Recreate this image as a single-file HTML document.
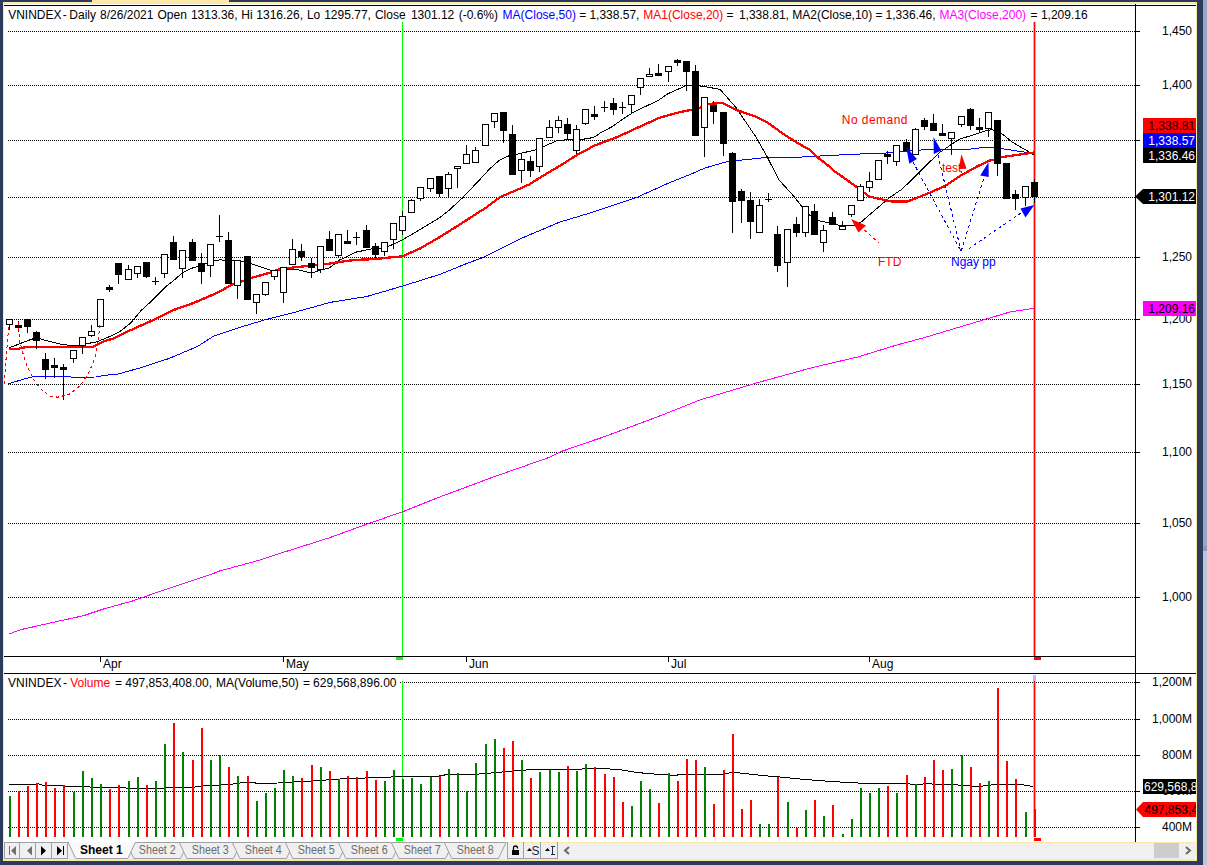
<!DOCTYPE html><html><head><meta charset="utf-8"><style>
html,body{margin:0;padding:0;background:#2b3b5b;overflow:hidden}
svg{display:block}
text{font-family:"Liberation Sans", sans-serif;font-size:12px}
</style></head><body>
<svg width="1207" height="865" viewBox="0 0 1207 865">
<rect x="0" y="0" width="1207" height="865" fill="#2b3b5b"/>
<rect x="1203" y="0" width="4" height="865" fill="#9aa7c2"/>
<rect x="1203" y="546" width="4" height="5" fill="#8d9ab5"/>
<rect x="1203" y="551" width="4" height="314" fill="#bcc5d9"/>
<rect x="92" y="0" width="137" height="2" fill="#fce8a8"/>
<rect x="3" y="2" width="1194" height="859" fill="#fce8a8"/>
<rect x="4" y="4" width="1192" height="838" fill="#ffffff"/>
<g shape-rendering="crispEdges">
<rect x="4" y="5" width="1192" height="1" fill="#000"/>
<line x1="8" y1="31.5" x2="1135" y2="31.5" stroke="#000" stroke-width="1" stroke-dasharray="1,1"/>
<rect x="1136" y="31" width="4" height="1" fill="#000"/>
<line x1="8" y1="85.5" x2="1135" y2="85.5" stroke="#000" stroke-width="1" stroke-dasharray="1,1"/>
<rect x="1136" y="85" width="4" height="1" fill="#000"/>
<line x1="8" y1="140.5" x2="1135" y2="140.5" stroke="#000" stroke-width="1" stroke-dasharray="1,1"/>
<rect x="1136" y="140" width="4" height="1" fill="#000"/>
<line x1="8" y1="197.5" x2="1135" y2="197.5" stroke="#000" stroke-width="1" stroke-dasharray="1,1"/>
<rect x="1136" y="197" width="4" height="1" fill="#000"/>
<line x1="8" y1="257.5" x2="1135" y2="257.5" stroke="#000" stroke-width="1" stroke-dasharray="1,1"/>
<rect x="1136" y="257" width="4" height="1" fill="#000"/>
<line x1="8" y1="319.5" x2="1135" y2="319.5" stroke="#000" stroke-width="1" stroke-dasharray="1,1"/>
<rect x="1136" y="319" width="4" height="1" fill="#000"/>
<line x1="8" y1="384.5" x2="1135" y2="384.5" stroke="#000" stroke-width="1" stroke-dasharray="1,1"/>
<rect x="1136" y="384" width="4" height="1" fill="#000"/>
<line x1="8" y1="452.5" x2="1135" y2="452.5" stroke="#000" stroke-width="1" stroke-dasharray="1,1"/>
<rect x="1136" y="452" width="4" height="1" fill="#000"/>
<line x1="8" y1="523.5" x2="1135" y2="523.5" stroke="#000" stroke-width="1" stroke-dasharray="1,1"/>
<rect x="1136" y="523" width="4" height="1" fill="#000"/>
<line x1="8" y1="597.5" x2="1135" y2="597.5" stroke="#000" stroke-width="1" stroke-dasharray="1,1"/>
<rect x="1136" y="597" width="4" height="1" fill="#000"/>
<line x1="8" y1="682.5" x2="1135" y2="682.5" stroke="#000" stroke-width="1" stroke-dasharray="1,1"/>
<rect x="1136" y="682" width="4" height="1" fill="#000"/>
<line x1="8" y1="719.5" x2="1135" y2="719.5" stroke="#000" stroke-width="1" stroke-dasharray="1,1"/>
<rect x="1136" y="719" width="4" height="1" fill="#000"/>
<line x1="8" y1="755.5" x2="1135" y2="755.5" stroke="#000" stroke-width="1" stroke-dasharray="1,1"/>
<rect x="1136" y="755" width="4" height="1" fill="#000"/>
<line x1="8" y1="791.5" x2="1135" y2="791.5" stroke="#000" stroke-width="1" stroke-dasharray="1,1"/>
<rect x="1136" y="791" width="4" height="1" fill="#000"/>
<line x1="8" y1="827.5" x2="1135" y2="827.5" stroke="#000" stroke-width="1" stroke-dasharray="1,1"/>
<rect x="1136" y="827" width="4" height="1" fill="#000"/>
</g>
<text x="1192" y="35" text-anchor="end" fill="#000">1,450</text>
<text x="1192" y="89" text-anchor="end" fill="#000">1,400</text>
<text x="1192" y="144" text-anchor="end" fill="#000">1,350</text>
<text x="1192" y="201" text-anchor="end" fill="#000">1,300</text>
<text x="1192" y="261" text-anchor="end" fill="#000">1,250</text>
<text x="1192" y="323" text-anchor="end" fill="#000">1,200</text>
<text x="1192" y="388" text-anchor="end" fill="#000">1,150</text>
<text x="1192" y="456" text-anchor="end" fill="#000">1,100</text>
<text x="1192" y="527" text-anchor="end" fill="#000">1,050</text>
<text x="1192" y="601" text-anchor="end" fill="#000">1,000</text>
<text x="1192" y="686" text-anchor="end" fill="#000">1,200M</text>
<text x="1192" y="723" text-anchor="end" fill="#000">1,000M</text>
<text x="1192" y="759" text-anchor="end" fill="#000">800M</text>
<text x="1192" y="795" text-anchor="end" fill="#000">600M</text>
<text x="1192" y="831" text-anchor="end" fill="#000">400M</text>
<g shape-rendering="crispEdges">
<rect x="1135" y="4" width="1" height="838" fill="#000"/>
<rect x="4" y="656" width="1131" height="1" fill="#000"/>
<rect x="4" y="673" width="1192" height="1" fill="#000"/>
<rect x="100" y="656" width="1" height="6" fill="#000"/>
<rect x="283" y="656" width="1" height="6" fill="#000"/>
<rect x="466" y="656" width="1" height="6" fill="#000"/>
<rect x="668" y="656" width="1" height="6" fill="#000"/>
<rect x="869" y="656" width="1" height="6" fill="#000"/>
</g>
<text x="103" y="668" fill="#000">Apr</text>
<text x="286" y="668" fill="#000">May</text>
<text x="469" y="668" fill="#000">Jun</text>
<text x="671" y="668" fill="#000">Jul</text>
<text x="872" y="668" fill="#000">Aug</text>
<g shape-rendering="crispEdges">
<rect x="402" y="22" width="1" height="634" fill="#00ff00"/>
<rect x="402" y="681" width="1" height="156" fill="#00ff00"/>
<rect x="396" y="657" width="7" height="3" fill="#00ff00"/>
<rect x="396" y="838" width="7" height="3" fill="#00ff00"/>
<rect x="1033" y="22" width="3" height="634" fill="#b4b4ff"/>
<rect x="1034" y="22" width="1" height="634" fill="#ff0000"/>
<rect x="1033" y="675" width="3" height="162" fill="#b4b4ff"/>
<rect x="1034" y="681" width="1" height="156" fill="#ff0000"/>
<rect x="1034" y="657" width="7" height="3" fill="#ff0000"/>
<rect x="1034" y="838" width="7" height="3" fill="#ff0000"/>
</g>
<polyline points="8.7,634.1 20.9,629.6 52.2,622.6 83.5,615.7 104.4,608.7 132.2,601.1 160.0,591.3 187.9,581.9 212.2,573.9 219.2,571.1 257.5,560.7 288.8,550.6 330.5,537.4 370.6,522.8 402.5,511.8 436.3,498.3 492.7,477.2 549.0,457.5 560.3,451.8 605.4,436.3 661.7,415.2 700.0,399.9 756.3,383.0 812.7,367.5 857.7,357.0 897.2,344.9 925.4,337.3 981.7,320.4 1009.9,312.0 1033.8,308.3" fill="none" stroke="#ff00ff" stroke-width="1" shape-rendering="crispEdges"/>
<polyline points="8.5,383.8 23.1,379.3 32.4,377.0 41.6,376.1 68.2,376.4 71.6,377.2 95.9,377.0 105.0,375.3 118.3,374.0 140.8,367.7 169.0,358.5 197.2,346.6 214.0,335.9 239.4,327.5 267.6,319.0 295.8,312.0 330.0,302.4 366.8,296.5 403.6,285.8 440.4,274.2 465.0,264.2 483.3,257.3 520.0,238.9 560.0,222.0 590.6,212.8 636.6,197.5 667.2,183.7 690.0,174.5 705.0,168.0 727.7,161.5 767.0,157.4 800.0,157.1 815.0,156.2 827.8,155.7 847.4,154.5 865.0,153.8 891.6,152.8 905.0,151.3 910.5,150.6 933.0,149.3 966.2,149.7 986.0,147.1 994.0,147.1 1006.0,149.3 1034.0,153.6" fill="none" stroke="#0000ff" stroke-width="1" shape-rendering="crispEdges"/>
<polyline points="9.2,347.6 17.3,344.7 27.7,340.6 34.7,338.3 40.4,338.9 48.5,341.2 62.4,344.7 69.3,345.2 78.6,345.2 87.8,343.5 97.0,341.8 104.0,338.9 110.0,336.4 120.4,331.2 130.8,322.9 141.2,310.4 151.6,301.0 160.0,292.7 167.2,285.4 172.4,281.7 182.9,272.4 193.3,267.7 203.7,264.6 214.1,260.4 220.3,259.9 240.8,261.2 251.2,263.8 272.0,270.6 286.6,269.6 294.9,269.0 311.6,273.2 319.9,270.1 323.5,269.5 329.3,268.0 339.4,260.1 347.8,256.0 356.1,252.1 371.4,249.0 380.4,248.3 388.0,246.6 400.0,241.0 409.8,235.7 424.7,226.7 439.6,217.8 449.6,209.8 462.5,197.9 479.4,180.0 490.0,168.5 500.0,159.8 509.0,155.8 515.9,154.4 535.8,149.9 542.7,146.9 557.7,140.4 573.6,139.4 587.5,138.9 595.4,136.5 600.0,133.1 612.9,126.2 621.9,119.7 632.8,112.7 644.7,106.8 657.7,100.8 667.6,93.9 675.5,90.4 686.5,85.4 699.4,85.9 709.3,87.4 720.0,89.4 735.6,107.0 755.0,135.6 767.0,156.6 779.0,180.0 792.7,195.0 801.7,206.3 809.0,214.6 818.0,220.6 829.8,223.0 839.0,225.2 854.8,225.2 861.2,222.0 889.0,198.0 902.5,188.8 919.8,171.6 939.6,152.4 959.5,139.1 972.8,135.1 987.4,130.2 992.7,129.8 1002.0,133.8 1012.6,142.4 1034.0,154.8" fill="none" stroke="#000" stroke-width="1" shape-rendering="crispEdges"/>
<polyline points="9.2,349.0 18.5,348.7 27.7,346.7 54.3,346.7 57.8,347.2 92.4,347.0 97.0,344.7 104.0,341.2 112.1,339.0 130.8,330.1 151.6,320.8 172.4,310.4 193.3,303.1 214.1,294.2 232.5,284.6 242.9,281.0 251.2,277.9 270.0,272.7 278.3,269.6 292.9,267.5 313.7,265.4 324.1,264.3 333.9,262.9 347.8,260.8 357.5,259.8 375.5,259.1 385.2,258.0 393.6,257.0 401.9,256.5 419.8,248.6 439.6,237.2 459.5,224.7 479.4,211.8 484.4,208.8 500.0,197.2 519.9,188.6 529.8,184.2 539.8,177.7 549.7,171.8 560.0,165.8 577.3,154.8 594.7,145.5 617.8,136.8 639.8,126.7 659.6,117.7 679.5,112.2 691.5,109.8 699.4,107.8 709.3,103.8 722.5,103.0 736.0,109.8 756.8,117.0 767.2,122.3 782.9,133.7 798.5,143.6 808.9,149.3 819.3,158.7 830.0,167.0 833.5,170.5 856.6,186.9 869.0,196.5 891.6,201.5 907.5,201.5 926.0,194.3 945.0,186.1 960.6,175.7 976.2,166.9 989.2,160.6 994.4,159.6 1002.2,157.0 1034.0,152.5" fill="none" stroke="#ff0000" stroke-width="2.3" stroke-linejoin="round" shape-rendering="crispEdges"/>
<g shape-rendering="crispEdges">
<rect x="9" y="319" width="1" height="11" fill="#000"/>
<rect x="6" y="319" width="7" height="6" fill="#000"/>
<rect x="7" y="320" width="5" height="4" fill="#fff"/>
<rect x="18" y="321" width="1" height="11" fill="#000"/>
<rect x="15" y="325" width="7" height="3" fill="#000"/>
<rect x="27" y="319" width="1" height="14" fill="#000"/>
<rect x="24" y="319" width="7" height="8" fill="#000"/>
<rect x="36" y="331" width="1" height="18" fill="#000"/>
<rect x="33" y="332" width="7" height="9" fill="#000"/>
<rect x="45" y="353" width="1" height="26" fill="#000"/>
<rect x="42" y="359" width="7" height="11" fill="#000"/>
<rect x="54" y="358" width="1" height="20" fill="#000"/>
<rect x="51" y="365" width="7" height="3" fill="#000"/>
<rect x="63" y="364" width="1" height="36" fill="#000"/>
<rect x="60" y="367" width="7" height="3" fill="#000"/>
<rect x="73" y="350" width="1" height="13" fill="#000"/>
<rect x="70" y="350" width="7" height="9" fill="#000"/>
<rect x="71" y="351" width="5" height="7" fill="#fff"/>
<rect x="82" y="337" width="1" height="17" fill="#000"/>
<rect x="79" y="337" width="7" height="9" fill="#000"/>
<rect x="80" y="338" width="5" height="7" fill="#fff"/>
<rect x="91" y="325" width="1" height="12" fill="#000"/>
<rect x="88" y="331" width="7" height="5" fill="#000"/>
<rect x="89" y="332" width="5" height="3" fill="#fff"/>
<rect x="97" y="299" width="7" height="28" fill="#000"/>
<rect x="98" y="300" width="5" height="26" fill="#fff"/>
<rect x="109" y="285" width="1" height="7" fill="#000"/>
<rect x="106" y="287" width="7" height="3" fill="#000"/>
<rect x="118" y="263" width="1" height="21" fill="#000"/>
<rect x="115" y="263" width="7" height="12" fill="#000"/>
<rect x="128" y="265" width="1" height="15" fill="#000"/>
<rect x="125" y="269" width="7" height="11" fill="#000"/>
<rect x="126" y="270" width="5" height="9" fill="#fff"/>
<rect x="137" y="266" width="1" height="12" fill="#000"/>
<rect x="134" y="266" width="7" height="8" fill="#000"/>
<rect x="135" y="267" width="5" height="6" fill="#fff"/>
<rect x="146" y="262" width="1" height="16" fill="#000"/>
<rect x="143" y="262" width="7" height="15" fill="#000"/>
<rect x="155" y="277" width="1" height="8" fill="#000"/>
<rect x="152" y="281" width="7" height="1" fill="#000"/>
<rect x="164" y="254" width="1" height="24" fill="#000"/>
<rect x="161" y="254" width="7" height="20" fill="#000"/>
<rect x="162" y="255" width="5" height="18" fill="#fff"/>
<rect x="173" y="236" width="1" height="24" fill="#000"/>
<rect x="170" y="242" width="7" height="18" fill="#000"/>
<rect x="182" y="250" width="1" height="28" fill="#000"/>
<rect x="179" y="250" width="7" height="19" fill="#000"/>
<rect x="180" y="251" width="5" height="17" fill="#fff"/>
<rect x="192" y="239" width="1" height="22" fill="#000"/>
<rect x="189" y="242" width="7" height="19" fill="#000"/>
<rect x="201" y="253" width="1" height="31" fill="#000"/>
<rect x="198" y="263" width="7" height="9" fill="#000"/>
<rect x="210" y="244" width="1" height="33" fill="#000"/>
<rect x="207" y="244" width="7" height="22" fill="#000"/>
<rect x="208" y="245" width="5" height="20" fill="#fff"/>
<rect x="219" y="215" width="1" height="27" fill="#000"/>
<rect x="216" y="236" width="7" height="1" fill="#000"/>
<rect x="228" y="232" width="1" height="52" fill="#000"/>
<rect x="225" y="240" width="7" height="44" fill="#000"/>
<rect x="237" y="260" width="1" height="39" fill="#000"/>
<rect x="234" y="260" width="7" height="26" fill="#000"/>
<rect x="235" y="261" width="5" height="24" fill="#fff"/>
<rect x="244" y="256" width="7" height="44" fill="#000"/>
<rect x="256" y="294" width="1" height="20" fill="#000"/>
<rect x="253" y="294" width="7" height="9" fill="#000"/>
<rect x="254" y="295" width="5" height="7" fill="#fff"/>
<rect x="265" y="282" width="1" height="14" fill="#000"/>
<rect x="262" y="282" width="7" height="13" fill="#000"/>
<rect x="263" y="283" width="5" height="11" fill="#fff"/>
<rect x="274" y="270" width="1" height="10" fill="#000"/>
<rect x="271" y="270" width="7" height="7" fill="#000"/>
<rect x="272" y="271" width="5" height="5" fill="#fff"/>
<rect x="283" y="267" width="1" height="36" fill="#000"/>
<rect x="280" y="267" width="7" height="26" fill="#000"/>
<rect x="281" y="268" width="5" height="24" fill="#fff"/>
<rect x="292" y="239" width="1" height="26" fill="#000"/>
<rect x="289" y="249" width="7" height="16" fill="#000"/>
<rect x="290" y="250" width="5" height="14" fill="#fff"/>
<rect x="301" y="244" width="1" height="17" fill="#000"/>
<rect x="298" y="251" width="7" height="6" fill="#000"/>
<rect x="311" y="258" width="1" height="20" fill="#000"/>
<rect x="308" y="263" width="7" height="5" fill="#000"/>
<rect x="320" y="246" width="1" height="27" fill="#000"/>
<rect x="317" y="246" width="7" height="24" fill="#000"/>
<rect x="318" y="247" width="5" height="22" fill="#fff"/>
<rect x="329" y="231" width="1" height="20" fill="#000"/>
<rect x="326" y="239" width="7" height="12" fill="#000"/>
<rect x="338" y="234" width="1" height="23" fill="#000"/>
<rect x="335" y="234" width="7" height="22" fill="#000"/>
<rect x="336" y="235" width="5" height="20" fill="#fff"/>
<rect x="347" y="230" width="1" height="14" fill="#000"/>
<rect x="344" y="241" width="7" height="3" fill="#000"/>
<rect x="356" y="232" width="1" height="13" fill="#000"/>
<rect x="353" y="237" width="7" height="1" fill="#000"/>
<rect x="366" y="225" width="1" height="23" fill="#000"/>
<rect x="363" y="230" width="7" height="18" fill="#000"/>
<rect x="375" y="243" width="1" height="15" fill="#000"/>
<rect x="372" y="246" width="7" height="9" fill="#000"/>
<rect x="384" y="242" width="1" height="14" fill="#000"/>
<rect x="381" y="242" width="7" height="10" fill="#000"/>
<rect x="382" y="243" width="5" height="8" fill="#fff"/>
<rect x="393" y="223" width="1" height="26" fill="#000"/>
<rect x="390" y="223" width="7" height="17" fill="#000"/>
<rect x="391" y="224" width="5" height="15" fill="#fff"/>
<rect x="402" y="211" width="1" height="24" fill="#000"/>
<rect x="399" y="216" width="7" height="15" fill="#000"/>
<rect x="400" y="217" width="5" height="13" fill="#fff"/>
<rect x="411" y="199" width="1" height="14" fill="#000"/>
<rect x="408" y="200" width="7" height="13" fill="#000"/>
<rect x="409" y="201" width="5" height="11" fill="#fff"/>
<rect x="420" y="187" width="1" height="14" fill="#000"/>
<rect x="417" y="187" width="7" height="12" fill="#000"/>
<rect x="418" y="188" width="5" height="10" fill="#fff"/>
<rect x="430" y="178" width="1" height="14" fill="#000"/>
<rect x="427" y="178" width="7" height="11" fill="#000"/>
<rect x="428" y="179" width="5" height="9" fill="#fff"/>
<rect x="439" y="176" width="1" height="21" fill="#000"/>
<rect x="436" y="176" width="7" height="18" fill="#000"/>
<rect x="448" y="172" width="1" height="25" fill="#000"/>
<rect x="445" y="174" width="7" height="15" fill="#000"/>
<rect x="446" y="175" width="5" height="13" fill="#fff"/>
<rect x="457" y="166" width="1" height="22" fill="#000"/>
<rect x="454" y="166" width="7" height="3" fill="#000"/>
<rect x="455" y="167" width="5" height="1" fill="#fff"/>
<rect x="466" y="145" width="1" height="19" fill="#000"/>
<rect x="463" y="154" width="7" height="10" fill="#000"/>
<rect x="464" y="155" width="5" height="8" fill="#fff"/>
<rect x="475" y="147" width="1" height="16" fill="#000"/>
<rect x="472" y="150" width="7" height="13" fill="#000"/>
<rect x="473" y="151" width="5" height="11" fill="#fff"/>
<rect x="482" y="124" width="7" height="22" fill="#000"/>
<rect x="483" y="125" width="5" height="20" fill="#fff"/>
<rect x="494" y="113" width="1" height="15" fill="#000"/>
<rect x="491" y="113" width="7" height="9" fill="#000"/>
<rect x="492" y="114" width="5" height="7" fill="#fff"/>
<rect x="503" y="112" width="1" height="31" fill="#000"/>
<rect x="500" y="112" width="7" height="19" fill="#000"/>
<rect x="512" y="125" width="1" height="50" fill="#000"/>
<rect x="509" y="134" width="7" height="41" fill="#000"/>
<rect x="521" y="154" width="1" height="29" fill="#000"/>
<rect x="518" y="159" width="7" height="12" fill="#000"/>
<rect x="519" y="160" width="5" height="10" fill="#fff"/>
<rect x="530" y="156" width="1" height="21" fill="#000"/>
<rect x="527" y="161" width="7" height="10" fill="#000"/>
<rect x="539" y="138" width="1" height="34" fill="#000"/>
<rect x="536" y="138" width="7" height="29" fill="#000"/>
<rect x="537" y="139" width="5" height="27" fill="#fff"/>
<rect x="549" y="120" width="1" height="18" fill="#000"/>
<rect x="546" y="127" width="7" height="11" fill="#000"/>
<rect x="547" y="128" width="5" height="9" fill="#fff"/>
<rect x="558" y="116" width="1" height="17" fill="#000"/>
<rect x="555" y="120" width="7" height="8" fill="#000"/>
<rect x="556" y="121" width="5" height="6" fill="#fff"/>
<rect x="567" y="118" width="1" height="21" fill="#000"/>
<rect x="564" y="124" width="7" height="10" fill="#000"/>
<rect x="576" y="125" width="1" height="29" fill="#000"/>
<rect x="573" y="129" width="7" height="22" fill="#000"/>
<rect x="574" y="130" width="5" height="20" fill="#fff"/>
<rect x="585" y="109" width="1" height="16" fill="#000"/>
<rect x="582" y="109" width="7" height="15" fill="#000"/>
<rect x="583" y="110" width="5" height="13" fill="#fff"/>
<rect x="594" y="106" width="1" height="14" fill="#000"/>
<rect x="591" y="114" width="7" height="3" fill="#000"/>
<rect x="604" y="101" width="1" height="11" fill="#000"/>
<rect x="601" y="107" width="7" height="1" fill="#000"/>
<rect x="613" y="98" width="1" height="17" fill="#000"/>
<rect x="610" y="103" width="7" height="7" fill="#000"/>
<rect x="622" y="102" width="1" height="12" fill="#000"/>
<rect x="619" y="107" width="7" height="1" fill="#000"/>
<rect x="631" y="95" width="1" height="19" fill="#000"/>
<rect x="628" y="95" width="7" height="10" fill="#000"/>
<rect x="629" y="96" width="5" height="8" fill="#fff"/>
<rect x="640" y="78" width="1" height="17" fill="#000"/>
<rect x="637" y="78" width="7" height="10" fill="#000"/>
<rect x="638" y="79" width="5" height="8" fill="#fff"/>
<rect x="649" y="68" width="1" height="9" fill="#000"/>
<rect x="646" y="74" width="7" height="3" fill="#000"/>
<rect x="647" y="75" width="5" height="1" fill="#fff"/>
<rect x="658" y="64" width="1" height="12" fill="#000"/>
<rect x="655" y="73" width="7" height="3" fill="#000"/>
<rect x="668" y="66" width="1" height="16" fill="#000"/>
<rect x="665" y="66" width="7" height="6" fill="#000"/>
<rect x="666" y="67" width="5" height="4" fill="#fff"/>
<rect x="677" y="59" width="1" height="7" fill="#000"/>
<rect x="674" y="60" width="7" height="3" fill="#000"/>
<rect x="686" y="61" width="1" height="30" fill="#000"/>
<rect x="683" y="61" width="7" height="11" fill="#000"/>
<rect x="695" y="65" width="1" height="71" fill="#000"/>
<rect x="692" y="71" width="7" height="65" fill="#000"/>
<rect x="704" y="97" width="1" height="60" fill="#000"/>
<rect x="701" y="97" width="7" height="31" fill="#000"/>
<rect x="702" y="98" width="5" height="29" fill="#fff"/>
<rect x="713" y="101" width="1" height="23" fill="#000"/>
<rect x="710" y="105" width="7" height="7" fill="#000"/>
<rect x="723" y="112" width="1" height="44" fill="#000"/>
<rect x="720" y="112" width="7" height="32" fill="#000"/>
<rect x="732" y="152" width="1" height="81" fill="#000"/>
<rect x="729" y="153" width="7" height="49" fill="#000"/>
<rect x="741" y="189" width="1" height="34" fill="#000"/>
<rect x="738" y="191" width="7" height="10" fill="#000"/>
<rect x="750" y="192" width="1" height="47" fill="#000"/>
<rect x="747" y="200" width="7" height="22" fill="#000"/>
<rect x="759" y="199" width="1" height="34" fill="#000"/>
<rect x="756" y="205" width="7" height="28" fill="#000"/>
<rect x="757" y="206" width="5" height="26" fill="#fff"/>
<rect x="768" y="193" width="1" height="9" fill="#000"/>
<rect x="765" y="199" width="7" height="1" fill="#000"/>
<rect x="777" y="226" width="1" height="46" fill="#000"/>
<rect x="774" y="234" width="7" height="32" fill="#000"/>
<rect x="787" y="229" width="1" height="58" fill="#000"/>
<rect x="784" y="229" width="7" height="34" fill="#000"/>
<rect x="785" y="230" width="5" height="32" fill="#fff"/>
<rect x="796" y="217" width="1" height="20" fill="#000"/>
<rect x="793" y="224" width="7" height="9" fill="#000"/>
<rect x="805" y="206" width="1" height="31" fill="#000"/>
<rect x="802" y="206" width="7" height="27" fill="#000"/>
<rect x="803" y="207" width="5" height="25" fill="#fff"/>
<rect x="814" y="204" width="1" height="31" fill="#000"/>
<rect x="811" y="211" width="7" height="24" fill="#000"/>
<rect x="823" y="225" width="1" height="27" fill="#000"/>
<rect x="820" y="230" width="7" height="13" fill="#000"/>
<rect x="821" y="231" width="5" height="11" fill="#fff"/>
<rect x="832" y="212" width="1" height="13" fill="#000"/>
<rect x="829" y="217" width="7" height="8" fill="#000"/>
<rect x="842" y="221" width="1" height="9" fill="#000"/>
<rect x="839" y="226" width="7" height="4" fill="#000"/>
<rect x="840" y="227" width="5" height="2" fill="#fff"/>
<rect x="851" y="205" width="1" height="12" fill="#000"/>
<rect x="848" y="205" width="7" height="10" fill="#000"/>
<rect x="849" y="206" width="5" height="8" fill="#fff"/>
<rect x="860" y="184" width="1" height="17" fill="#000"/>
<rect x="857" y="186" width="7" height="15" fill="#000"/>
<rect x="858" y="187" width="5" height="13" fill="#fff"/>
<rect x="869" y="172" width="1" height="20" fill="#000"/>
<rect x="866" y="181" width="7" height="7" fill="#000"/>
<rect x="867" y="182" width="5" height="5" fill="#fff"/>
<rect x="875" y="160" width="7" height="20" fill="#000"/>
<rect x="876" y="161" width="5" height="18" fill="#fff"/>
<rect x="887" y="151" width="1" height="13" fill="#000"/>
<rect x="884" y="154" width="7" height="3" fill="#000"/>
<rect x="896" y="145" width="1" height="21" fill="#000"/>
<rect x="893" y="145" width="7" height="17" fill="#000"/>
<rect x="894" y="146" width="5" height="15" fill="#fff"/>
<rect x="906" y="139" width="1" height="12" fill="#000"/>
<rect x="903" y="142" width="7" height="9" fill="#000"/>
<rect x="915" y="128" width="1" height="27" fill="#000"/>
<rect x="912" y="129" width="7" height="26" fill="#000"/>
<rect x="913" y="130" width="5" height="24" fill="#fff"/>
<rect x="924" y="118" width="1" height="12" fill="#000"/>
<rect x="921" y="120" width="7" height="7" fill="#000"/>
<rect x="933" y="114" width="1" height="17" fill="#000"/>
<rect x="930" y="123" width="7" height="8" fill="#000"/>
<rect x="942" y="124" width="1" height="12" fill="#000"/>
<rect x="939" y="133" width="7" height="3" fill="#000"/>
<rect x="951" y="132" width="1" height="23" fill="#000"/>
<rect x="948" y="132" width="7" height="7" fill="#000"/>
<rect x="949" y="133" width="5" height="5" fill="#fff"/>
<rect x="961" y="116" width="1" height="11" fill="#000"/>
<rect x="958" y="116" width="7" height="9" fill="#000"/>
<rect x="959" y="117" width="5" height="7" fill="#fff"/>
<rect x="970" y="108" width="1" height="22" fill="#000"/>
<rect x="967" y="109" width="7" height="17" fill="#000"/>
<rect x="979" y="118" width="1" height="14" fill="#000"/>
<rect x="976" y="127" width="7" height="3" fill="#000"/>
<rect x="988" y="112" width="1" height="25" fill="#000"/>
<rect x="985" y="112" width="7" height="17" fill="#000"/>
<rect x="986" y="113" width="5" height="15" fill="#fff"/>
<rect x="997" y="120" width="1" height="56" fill="#000"/>
<rect x="994" y="120" width="7" height="44" fill="#000"/>
<rect x="1003" y="163" width="7" height="36" fill="#000"/>
<rect x="1015" y="190" width="1" height="20" fill="#000"/>
<rect x="1012" y="194" width="7" height="5" fill="#000"/>
<rect x="1025" y="186" width="1" height="20" fill="#000"/>
<rect x="1022" y="186" width="7" height="12" fill="#000"/>
<rect x="1023" y="187" width="5" height="10" fill="#fff"/>
<rect x="1034" y="179" width="1" height="24" fill="#000"/>
<rect x="1031" y="182" width="7" height="15" fill="#000"/>
</g>
<polyline points="8.6,784.4 38.8,784.0 43.0,785.3 69.0,786.2 95.0,787.2 120.6,787.2 133.6,789.0 159.4,788.3 178.8,787.2 193.9,787.2 198.0,786.2 215.4,785.5 232.7,784.0 243.4,782.5 260.0,783.2 278.0,783.0 295.0,781.9 314.6,780.8 340.5,779.0 375.0,777.6 405.0,776.5 439.6,776.0 448.0,774.3 476.0,774.3 500.0,772.2 525.9,770.0 562.5,769.6 599.0,768.5 618.5,769.4 637.9,772.6 657.3,774.3 674.5,775.4 683.0,774.3 724.0,774.3 732.7,772.2 741.3,773.2 764.7,775.7 781.8,777.2 798.9,778.9 818.4,780.6 847.8,782.5 867.3,783.5 906.4,783.5 916.2,785.0 926.0,783.5 938.2,784.5 957.7,785.0 979.7,786.5 994.4,784.5 1018.9,784.3 1033.5,786.5" fill="none" stroke="#000" stroke-width="1" shape-rendering="crispEdges"/>
<g shape-rendering="crispEdges">
<rect x="9" y="796" width="2" height="41" fill="#008000"/>
<rect x="18" y="791" width="2" height="46" fill="#ff0000"/>
<rect x="27" y="786" width="2" height="51" fill="#ff0000"/>
<rect x="36" y="783" width="2" height="54" fill="#ff0000"/>
<rect x="45" y="782" width="2" height="55" fill="#ff0000"/>
<rect x="54" y="788" width="2" height="49" fill="#ff0000"/>
<rect x="63" y="785" width="2" height="52" fill="#ff0000"/>
<rect x="73" y="792" width="2" height="45" fill="#008000"/>
<rect x="82" y="771" width="2" height="66" fill="#008000"/>
<rect x="91" y="778" width="2" height="59" fill="#008000"/>
<rect x="100" y="784" width="2" height="53" fill="#008000"/>
<rect x="109" y="789" width="2" height="48" fill="#ff0000"/>
<rect x="118" y="785" width="2" height="52" fill="#ff0000"/>
<rect x="128" y="781" width="2" height="56" fill="#008000"/>
<rect x="137" y="777" width="2" height="60" fill="#008000"/>
<rect x="146" y="785" width="2" height="52" fill="#ff0000"/>
<rect x="155" y="781" width="2" height="56" fill="#008000"/>
<rect x="164" y="744" width="2" height="93" fill="#008000"/>
<rect x="173" y="723" width="2" height="114" fill="#ff0000"/>
<rect x="182" y="752" width="2" height="85" fill="#008000"/>
<rect x="192" y="760" width="2" height="77" fill="#ff0000"/>
<rect x="201" y="728" width="2" height="109" fill="#ff0000"/>
<rect x="210" y="760" width="2" height="77" fill="#008000"/>
<rect x="219" y="755" width="2" height="82" fill="#008000"/>
<rect x="228" y="767" width="2" height="70" fill="#ff0000"/>
<rect x="237" y="776" width="2" height="61" fill="#008000"/>
<rect x="247" y="776" width="2" height="61" fill="#ff0000"/>
<rect x="256" y="801" width="2" height="36" fill="#008000"/>
<rect x="265" y="793" width="2" height="44" fill="#008000"/>
<rect x="274" y="788" width="2" height="49" fill="#008000"/>
<rect x="283" y="770" width="2" height="67" fill="#008000"/>
<rect x="292" y="776" width="2" height="61" fill="#008000"/>
<rect x="301" y="778" width="2" height="59" fill="#ff0000"/>
<rect x="311" y="765" width="2" height="72" fill="#ff0000"/>
<rect x="320" y="767" width="2" height="70" fill="#008000"/>
<rect x="329" y="771" width="2" height="66" fill="#ff0000"/>
<rect x="338" y="779" width="2" height="58" fill="#008000"/>
<rect x="347" y="776" width="2" height="61" fill="#ff0000"/>
<rect x="356" y="777" width="2" height="60" fill="#ff0000"/>
<rect x="366" y="771" width="2" height="66" fill="#ff0000"/>
<rect x="375" y="780" width="2" height="57" fill="#ff0000"/>
<rect x="384" y="781" width="2" height="56" fill="#008000"/>
<rect x="393" y="770" width="2" height="67" fill="#008000"/>
<rect x="402" y="779" width="2" height="58" fill="#008000"/>
<rect x="411" y="778" width="2" height="59" fill="#008000"/>
<rect x="420" y="784" width="2" height="53" fill="#008000"/>
<rect x="430" y="777" width="2" height="60" fill="#008000"/>
<rect x="439" y="776" width="2" height="61" fill="#ff0000"/>
<rect x="448" y="769" width="2" height="68" fill="#008000"/>
<rect x="457" y="773" width="2" height="64" fill="#008000"/>
<rect x="466" y="791" width="2" height="46" fill="#008000"/>
<rect x="475" y="763" width="2" height="74" fill="#008000"/>
<rect x="485" y="744" width="2" height="93" fill="#008000"/>
<rect x="494" y="739" width="2" height="98" fill="#008000"/>
<rect x="503" y="748" width="2" height="89" fill="#ff0000"/>
<rect x="512" y="741" width="2" height="96" fill="#ff0000"/>
<rect x="521" y="760" width="2" height="77" fill="#008000"/>
<rect x="530" y="778" width="2" height="59" fill="#ff0000"/>
<rect x="539" y="772" width="2" height="65" fill="#008000"/>
<rect x="549" y="770" width="2" height="67" fill="#008000"/>
<rect x="558" y="772" width="2" height="65" fill="#008000"/>
<rect x="567" y="766" width="2" height="71" fill="#ff0000"/>
<rect x="576" y="771" width="2" height="66" fill="#008000"/>
<rect x="585" y="764" width="2" height="73" fill="#008000"/>
<rect x="594" y="767" width="2" height="70" fill="#ff0000"/>
<rect x="604" y="774" width="2" height="63" fill="#ff0000"/>
<rect x="613" y="777" width="2" height="60" fill="#ff0000"/>
<rect x="622" y="802" width="2" height="35" fill="#ff0000"/>
<rect x="631" y="806" width="2" height="31" fill="#008000"/>
<rect x="640" y="781" width="2" height="56" fill="#008000"/>
<rect x="649" y="789" width="2" height="48" fill="#008000"/>
<rect x="658" y="803" width="2" height="34" fill="#ff0000"/>
<rect x="668" y="773" width="2" height="64" fill="#008000"/>
<rect x="677" y="781" width="2" height="56" fill="#ff0000"/>
<rect x="686" y="759" width="2" height="78" fill="#ff0000"/>
<rect x="695" y="760" width="2" height="77" fill="#ff0000"/>
<rect x="704" y="767" width="2" height="70" fill="#008000"/>
<rect x="713" y="804" width="2" height="33" fill="#ff0000"/>
<rect x="723" y="770" width="2" height="67" fill="#ff0000"/>
<rect x="732" y="734" width="2" height="103" fill="#ff0000"/>
<rect x="741" y="809" width="2" height="28" fill="#ff0000"/>
<rect x="750" y="800" width="2" height="37" fill="#ff0000"/>
<rect x="759" y="824" width="2" height="13" fill="#008000"/>
<rect x="768" y="824" width="2" height="13" fill="#008000"/>
<rect x="777" y="777" width="2" height="60" fill="#ff0000"/>
<rect x="787" y="802" width="2" height="35" fill="#008000"/>
<rect x="796" y="828" width="2" height="9" fill="#ff0000"/>
<rect x="805" y="810" width="2" height="27" fill="#008000"/>
<rect x="814" y="800" width="2" height="37" fill="#ff0000"/>
<rect x="823" y="816" width="2" height="21" fill="#008000"/>
<rect x="832" y="805" width="2" height="32" fill="#ff0000"/>
<rect x="842" y="834" width="2" height="3" fill="#008000"/>
<rect x="851" y="819" width="2" height="18" fill="#008000"/>
<rect x="860" y="788" width="2" height="49" fill="#008000"/>
<rect x="869" y="793" width="2" height="44" fill="#008000"/>
<rect x="878" y="788" width="2" height="49" fill="#008000"/>
<rect x="887" y="786" width="2" height="51" fill="#ff0000"/>
<rect x="896" y="793" width="2" height="44" fill="#008000"/>
<rect x="906" y="775" width="2" height="62" fill="#ff0000"/>
<rect x="915" y="784" width="2" height="53" fill="#008000"/>
<rect x="924" y="777" width="2" height="60" fill="#ff0000"/>
<rect x="933" y="760" width="2" height="77" fill="#ff0000"/>
<rect x="942" y="770" width="2" height="67" fill="#ff0000"/>
<rect x="951" y="769" width="2" height="68" fill="#008000"/>
<rect x="961" y="755" width="2" height="82" fill="#008000"/>
<rect x="970" y="767" width="2" height="70" fill="#ff0000"/>
<rect x="979" y="783" width="2" height="54" fill="#ff0000"/>
<rect x="988" y="781" width="2" height="56" fill="#008000"/>
<rect x="997" y="688" width="2" height="149" fill="#ff0000"/>
<rect x="1006" y="761" width="2" height="76" fill="#ff0000"/>
<rect x="1015" y="779" width="2" height="58" fill="#ff0000"/>
<rect x="1025" y="812" width="2" height="25" fill="#008000"/>
<rect x="1034" y="809" width="2" height="28" fill="#ff0000"/>
</g>
<polyline points="18.5,321.6 19.6,341.2 25.4,362.0 33.5,379.3 40.4,388.6 49.7,396.0 57.8,397.2 69.3,394.3 80.9,385.1 89.0,372.4 94.7,358.5 98.2,341.2 99.9,323.9" fill="none" stroke="#ff0000" stroke-width="1" stroke-dasharray="3,3" shape-rendering="crispEdges"/>
<polyline points="8.7,327.0 7.5,341.0 5.8,362.0 4.4,384.0" fill="none" stroke="#ff0000" stroke-width="1" stroke-dasharray="3,3" shape-rendering="crispEdges"/>
<line x1="913" y1="162" x2="961.1" y2="251.4" stroke="#0000ff" stroke-width="1" stroke-dasharray="3,3" shape-rendering="crispEdges"/>
<line x1="938" y1="155.5" x2="961.1" y2="251.4" stroke="#0000ff" stroke-width="1" stroke-dasharray="3,3" shape-rendering="crispEdges"/>
<line x1="983.5" y1="179.3" x2="961.1" y2="251.4" stroke="#0000ff" stroke-width="1" stroke-dasharray="3,3" shape-rendering="crispEdges"/>
<line x1="1021" y1="213" x2="969" y2="248.5" stroke="#0000ff" stroke-width="1" stroke-dasharray="3,3" shape-rendering="crispEdges"/>
<line x1="864.4" y1="230.2" x2="879" y2="242.7" stroke="#ff0000" stroke-width="1" stroke-dasharray="3,3" shape-rendering="crispEdges"/>
<line x1="961.5" y1="171" x2="961.5" y2="176" stroke="#ff0000" stroke-width="1" stroke-dasharray="2,2"/>
<polygon points="906.2,146.9 916.9,159.1 909.3,163.8" fill="#0000ff"/>
<polygon points="933.5,137 941.3,150.6 933.8,153.9" fill="#0000ff"/>
<polygon points="988.5,162.2 980.2,175.6 988.7,177" fill="#0000ff"/>
<polygon points="1034.3,205 1020.5,208.5 1025.5,217.5" fill="#0000ff"/>
<polygon points="851.1,219 858.4,232.6 866,225.6" fill="#ff0000"/>
<polygon points="961.4,154.1 958.8,168.9 966.6,168.7" fill="#ff0000"/>
<text x="841.8" y="124" fill="#ff0000" letter-spacing="0.45">No demand</text>
<text x="942" y="172" fill="#ff0000">test</text>
<text x="878" y="266" fill="#ff0000">FTD</text>
<text x="951" y="266" fill="#0000ff">Ngay pp</text>
<text x="8.15" y="19" fill="#000" font-size="12" style="white-space:pre">VNINDEX</text>
<text x="62.77" y="19" fill="#000" font-size="12" style="white-space:pre">-</text>
<text x="69.32" y="19" fill="#000" font-size="12" style="white-space:pre">Daily</text>
<text x="100.08" y="19" fill="#000" font-size="12" style="white-space:pre">8/26/2021</text>
<text x="157.53" y="19" fill="#000" font-size="12" style="white-space:pre">Open</text>
<text x="190.89" y="19" fill="#000" font-size="12" style="white-space:pre">1313.36,</text>
<text x="241.32" y="19" fill="#000" font-size="12" style="white-space:pre">Hi</text>
<text x="256.29" y="19" fill="#000" font-size="12" style="white-space:pre">1316.26,</text>
<text x="306.92" y="19" fill="#000" font-size="12" style="white-space:pre">Lo</text>
<text x="324.19" y="19" fill="#000" font-size="12" style="white-space:pre">1295.77,</text>
<text x="374.89" y="19" fill="#000" font-size="12" style="white-space:pre">Close</text>
<text x="410.89" y="19" fill="#000" font-size="12" style="white-space:pre">1301.12</text>
<text x="458.66" y="19" fill="#000" font-size="12" style="white-space:pre">(-0.6%)</text>
<text x="502.62" y="19" fill="#0000ff" font-size="12" style="white-space:pre">MA(Close,50)</text>
<text x="579.21" y="19" fill="#000" font-size="12" style="white-space:pre">=</text>
<text x="589.39" y="19" fill="#000" font-size="12" style="white-space:pre">1,338.57,</text>
<text x="643.22" y="19" fill="#ff0000" font-size="12" style="white-space:pre">MA1(Close,20)</text>
<text x="726.61" y="19" fill="#000" font-size="12" style="white-space:pre">=</text>
<text x="738.89" y="19" fill="#000" font-size="12" style="white-space:pre">1,338.81,</text>
<text x="792.22" y="19" fill="#000" font-size="12" style="white-space:pre">MA2(Close,10)</text>
<text x="875.41" y="19" fill="#000" font-size="12" style="white-space:pre">=</text>
<text x="885.59" y="19" fill="#000" font-size="12" style="white-space:pre">1,336.46,</text>
<text x="939.42" y="19" fill="#ff00ff" font-size="12" style="white-space:pre">MA3(Close,200)</text>
<text x="1030.61" y="19" fill="#000" font-size="12" style="white-space:pre">=</text>
<text x="1040.89" y="19" fill="#000" font-size="12" style="white-space:pre">1,209.16</text>
<rect x="4" y="674" width="395" height="16" fill="#fff"/>
<text x="8.05" y="687" fill="#000" font-size="12" style="white-space:pre">VNINDEX</text>
<text x="63.07" y="687" fill="#000" font-size="12" style="white-space:pre">-</text>
<text x="70.15" y="687" fill="#ff0000" font-size="12" style="white-space:pre">Volume</text>
<text x="114.91" y="687" fill="#000" font-size="12" style="white-space:pre">=</text>
<text x="125.22" y="687" fill="#000" font-size="12" style="white-space:pre">497,853,408.00,</text>
<text x="216.12" y="687" fill="#000" font-size="12" style="white-space:pre">MA(Volume,50)</text>
<text x="303.11" y="687" fill="#000" font-size="12" style="white-space:pre">=</text>
<text x="313.09" y="687" fill="#000" font-size="12" style="white-space:pre">629,568,896.00</text>
<g shape-rendering="crispEdges">
<rect x="1143" y="118" width="53" height="15" fill="#ff0000"/>
<rect x="1143" y="133" width="53" height="15" fill="#0000ff"/>
<rect x="1143" y="148" width="53" height="15" fill="#000"/>
<rect x="1143" y="301" width="53" height="15" fill="#ff00ff"/>
<rect x="1143" y="779" width="53" height="15" fill="#000"/>
</g>
<polygon points="1135,196.5 1143,189 1196,189 1196,204 1143,204" fill="#000"/>
<polygon points="1136,809.5 1143,802 1196,802 1196,817 1143,817" fill="#ff0000"/>
<svg x="1143" y="0" width="53" height="865">
<text x="52" y="130" text-anchor="end" fill="#000">1,338.81</text>
<text x="52" y="145" text-anchor="end" fill="#fff">1,338.57</text>
<text x="52" y="160" text-anchor="end" fill="#fff">1,336.46</text>
<text x="52" y="201" text-anchor="end" fill="#fff">1,301.12</text>
<text x="52" y="313" text-anchor="end" fill="#000">1,209.16</text>
<text x="1" y="791" fill="#fff">629,568,896</text>
<text x="1.5" y="814" fill="#000">497,853,408</text>
</svg>
<rect x="4" y="843" width="1192" height="16" fill="#f0f0f0"/>
<g shape-rendering="crispEdges">
<rect x="4" y="842" width="64" height="1" fill="#a0a0a0"/>
<rect x="4" y="858" width="64" height="1" fill="#a0a0a0"/>
<rect x="4" y="842" width="1" height="17" fill="#a0a0a0"/>
<rect x="19" y="842" width="1" height="17" fill="#a0a0a0"/>
<rect x="35" y="842" width="1" height="17" fill="#a0a0a0"/>
<rect x="51" y="842" width="1" height="17" fill="#a0a0a0"/>
<rect x="67" y="842" width="1" height="17" fill="#a0a0a0"/>
</g>
<rect x="9" y="846" width="1" height="9" fill="#707070"/>
<polygon points="16,846 16,855.5 11,850.75" fill="#707070"/>
<polygon points="32,846 32,855.5 27,850.75" fill="#707070"/>
<polygon points="41,846 41,855.5 46,850.75" fill="#000"/>
<polygon points="57,846 57,855.5 62,850.75" fill="#000"/>
<rect x="63" y="846" width="1" height="9" fill="#000"/>
<polygon points="126.3,842.5 188.0,842.5 180.5,858.5 133.8,858.5" fill="#f0f0f0" stroke="#a0a0a0" stroke-width="1"/>
<text x="138.8" y="854" fill="#6d6d6d" font-size="12" textLength="37" lengthAdjust="spacingAndGlyphs">Sheet 2</text>
<polygon points="179.3,842.5 241.0,842.5 233.5,858.5 186.8,858.5" fill="#f0f0f0" stroke="#a0a0a0" stroke-width="1"/>
<text x="191.8" y="854" fill="#6d6d6d" font-size="12" textLength="37" lengthAdjust="spacingAndGlyphs">Sheet 3</text>
<polygon points="232.3,842.5 294.0,842.5 286.5,858.5 239.8,858.5" fill="#f0f0f0" stroke="#a0a0a0" stroke-width="1"/>
<text x="244.8" y="854" fill="#6d6d6d" font-size="12" textLength="37" lengthAdjust="spacingAndGlyphs">Sheet 4</text>
<polygon points="285.3,842.5 347.0,842.5 339.5,858.5 292.8,858.5" fill="#f0f0f0" stroke="#a0a0a0" stroke-width="1"/>
<text x="297.8" y="854" fill="#6d6d6d" font-size="12" textLength="37" lengthAdjust="spacingAndGlyphs">Sheet 5</text>
<polygon points="338.3,842.5 400.0,842.5 392.5,858.5 345.8,858.5" fill="#f0f0f0" stroke="#a0a0a0" stroke-width="1"/>
<text x="350.8" y="854" fill="#6d6d6d" font-size="12" textLength="37" lengthAdjust="spacingAndGlyphs">Sheet 6</text>
<polygon points="391.3,842.5 453.0,842.5 445.5,858.5 398.8,858.5" fill="#f0f0f0" stroke="#a0a0a0" stroke-width="1"/>
<text x="403.8" y="854" fill="#6d6d6d" font-size="12" textLength="37" lengthAdjust="spacingAndGlyphs">Sheet 7</text>
<polygon points="444.3,842.5 506.0,842.5 498.5,858.5 451.8,858.5" fill="#f0f0f0" stroke="#a0a0a0" stroke-width="1"/>
<text x="456.8" y="854" fill="#6d6d6d" font-size="12" textLength="37" lengthAdjust="spacingAndGlyphs">Sheet 8</text>
<polygon points="68.2,842.5 135.3,842.5 127.8,858.5 75.7,858.5" fill="#fafafa" stroke="#a0a0a0" stroke-width="1"/>
<rect x="69" y="842" width="66" height="1" fill="#fafafa"/>
<text x="80" y="854" fill="#000" font-weight="bold">Sheet 1</text>
<g shape-rendering="crispEdges">
<rect x="507" y="842" width="1" height="17" fill="#a0a0a0"/>
<rect x="523" y="842" width="1" height="17" fill="#a0a0a0"/>
<rect x="540" y="842" width="1" height="17" fill="#a0a0a0"/>
<rect x="557" y="842" width="1" height="17" fill="#a0a0a0"/>
<rect x="507" y="858" width="51" height="1" fill="#a0a0a0"/>
</g>
<rect x="512" y="850" width="7" height="5" fill="#000"/>
<path d="M513.5,850 v-2 a2,2 0 0 1 4,0 v0.5" fill="none" stroke="#000" stroke-width="1.3"/>
<polygon points="527,851 532,851 529.5,848" fill="#000"/>
<text x="531.5" y="855" fill="#1a2a4a" font-size="12">S</text>
<polygon points="545,851 550,851 547.5,848" fill="#000"/>
<path d="M550.5,846.5h4M552.5,846.5v8M550.5,854.5h4" fill="none" stroke="#1a2a4a" stroke-width="1" shape-rendering="crispEdges"/>
<polyline points="569,847 565,850.5 569,854" fill="none" stroke="#6a6a6a" stroke-width="2"/>
<rect x="1154" y="843" width="25" height="15" fill="#cdcdcd"/>
<polyline points="1186,847 1190,850.5 1186,854" fill="none" stroke="#6a6a6a" stroke-width="2"/>
</svg></body></html>
